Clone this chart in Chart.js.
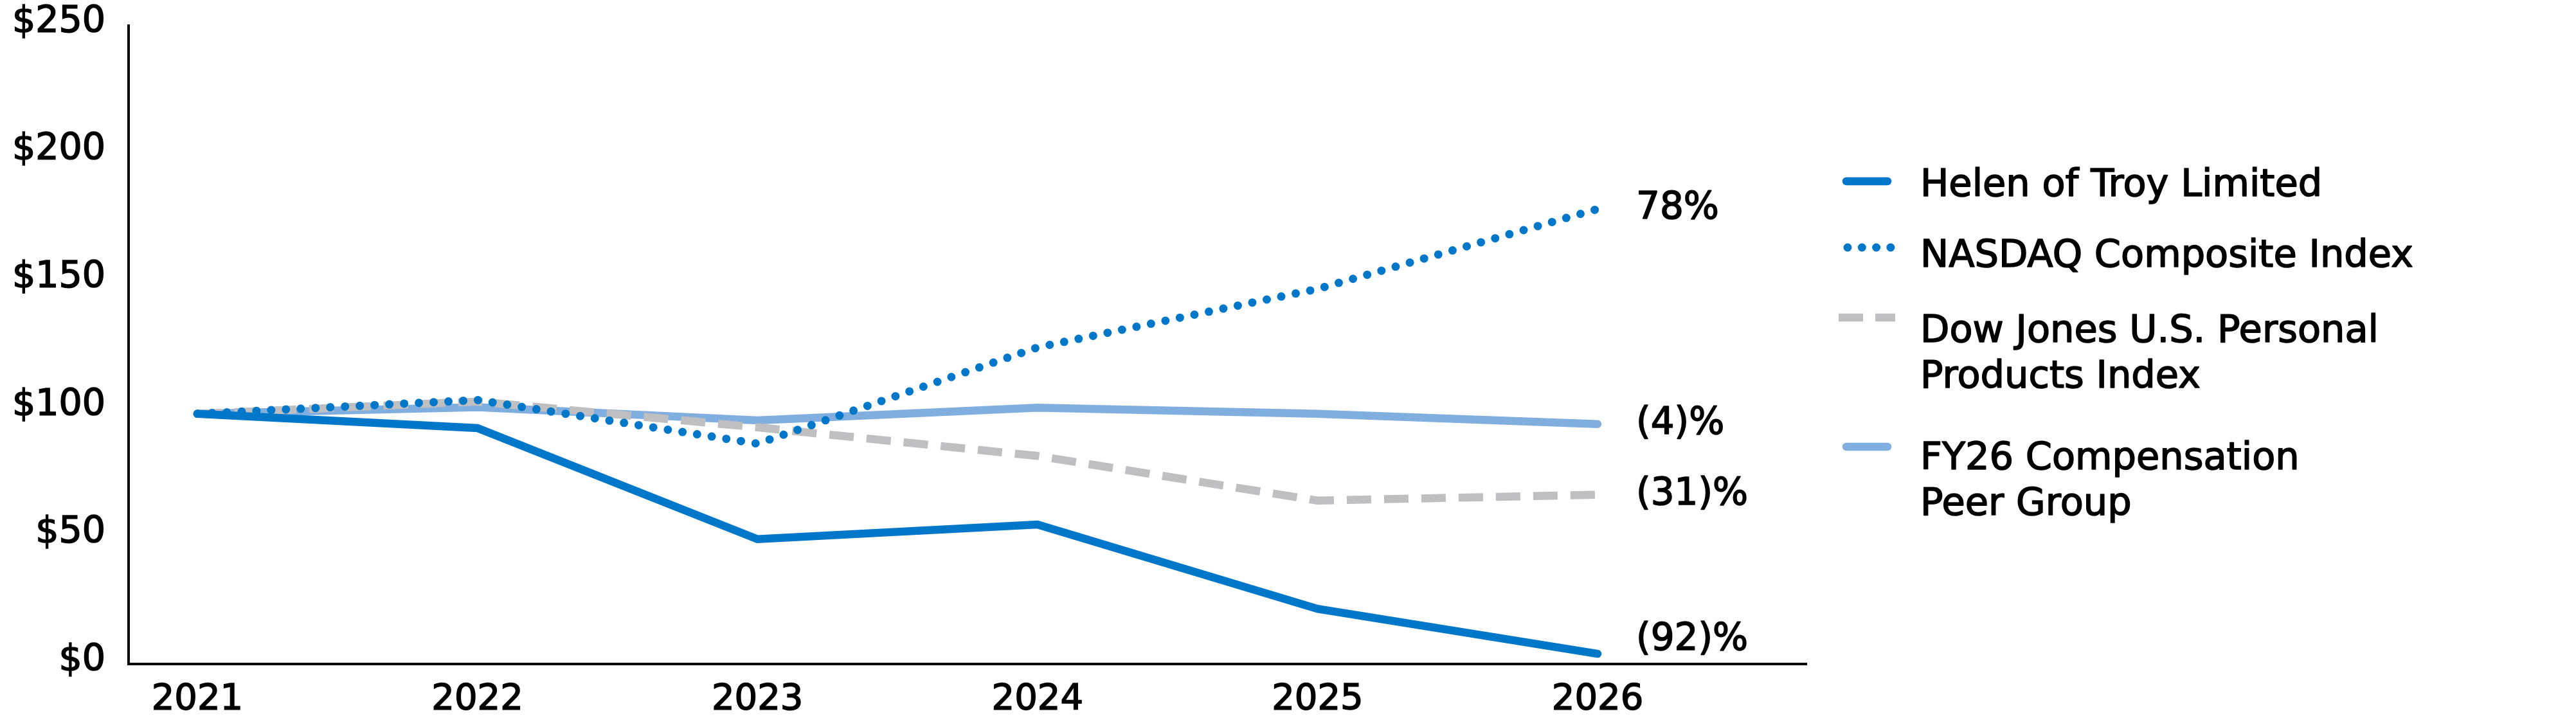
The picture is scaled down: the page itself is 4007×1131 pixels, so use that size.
<!DOCTYPE html>
<html>
<head>
<meta charset="utf-8">
<script src="https://cdn.jsdelivr.net/npm/chart.js@4.4.1/dist/chart.umd.min.js"></script>
<style>
  html, body { margin: 0; padding: 0; background: #fff; }
</style>
</head>
<body>
<canvas id="myChart" width="4007" height="1131"></canvas>
<script>
// values
const years = [2021, 2022, 2023, 2024, 2025, 2026];
const helen = [98, 92.4, 48.9, 54.6, 21.6, 4];
const nasdaq = [98, 103.4, 86.3, 124, 146.9, 178.2];
const dowJones = [98, 102.8, 92.7, 81.5, 64, 66.3];
const peerGroup = [98, 100.6, 95.4, 100.4, 98, 94];
const yTicks = [0, 50, 100, 150, 200, 250];
const seriesNames = [
  ['Helen of Troy Limited'],
  ['NASDAQ Composite Index'],
  ['Dow Jones U.S. Personal', 'Products Index'],
  ['FY26 Compensation', 'Peer Group']
];
const endLabels = ['(92)%', '78%', '(31)%', '(4)%'];

const FONT = 'DejaVu Sans';
const darkBlue = '#0077c8';
const lightBlue = '#80aedf';
const grey = '#bfbfc1';

const toPoints = (vals) => vals.map((v, i) => ({ x: years[i], y: v }));

// legend layout: marker y, first text line centre y
const legendRows = [
  { markY: 282, textY: 284 },
  { markY: 385, textY: 394 },
  { markY: 494, textY: 511 },
  { markY: 695, textY: 709 }
];

function boldText(ctx, str, x, y) {
  ctx.lineWidth = 1.6;
  ctx.strokeStyle = '#000';
  ctx.lineJoin = 'round';
  ctx.strokeText(str, x, y);
  ctx.fillText(str, x, y);
}

const legendPlugin = {
  id: 'sideLegend',
  afterDraw(chart) {
    const ctx = chart.ctx;
    const fs = 59;
    chart.data.datasets.forEach((ds, i) => {
      const row = legendRows[i];
      ctx.save();
      ctx.strokeStyle = ds.borderColor;
      ctx.lineWidth = ds.borderWidth;
      ctx.lineCap = ds.borderCapStyle || 'butt';
      let x0 = 2872, x1 = 2936;
      if (i === 1) { ctx.setLineDash([0, 22.3]); x0 = 2874; x1 = 2941; }
      if (i === 2) { ctx.setLineDash([38, 19]); x0 = 2860; x1 = 2948; }
      ctx.beginPath();
      ctx.moveTo(x0, row.markY);
      ctx.lineTo(x1, row.markY);
      ctx.stroke();
      ctx.restore();

      ctx.save();
      ctx.fillStyle = '#000';
      ctx.font = fs + 'px "' + FONT + '"';
      ctx.textBaseline = 'alphabetic';
      ctx.textAlign = 'left';
      seriesNames[i].forEach((line, k) => {
        boldText(ctx, line, 2987, row.textY + k * 71 + 0.36 * fs);
      });
      ctx.restore();
    });
  }
};

const endLabelPlugin = {
  id: 'endLabels',
  afterDatasetsDraw(chart) {
    const ctx = chart.ctx;
    const fs = 58;
    const bottom = chart.chartArea.bottom;
    chart.data.datasets.forEach((ds, i) => {
      const meta = chart.getDatasetMeta(i);
      const pt = meta.data[meta.data.length - 1];
      // keep the label clear of the x axis
      const y = Math.min(pt.y - 6, bottom - 43);
      ctx.save();
      ctx.fillStyle = '#000';
      ctx.font = fs + 'px "' + FONT + '"';
      ctx.textBaseline = 'alphabetic';
      ctx.textAlign = 'left';
      boldText(ctx, endLabels[i], pt.x + 60, y + 0.36 * fs);
      ctx.restore();
    });
  }
};

const ctx = document.getElementById('myChart');

new Chart(ctx, {
  type: 'line',
  data: {
    datasets: [
      {
        label: seriesNames[0].join(' '),
        data: toPoints(helen),
        borderColor: darkBlue,
        borderWidth: 12.5,
        borderCapStyle: 'round',
        borderJoinStyle: 'miter',
        pointRadius: 0
      },
      {
        label: seriesNames[1].join(' '),
        data: toPoints(nasdaq),
        borderColor: darkBlue,
        borderWidth: 13,
        borderDash: [0, 23],
        borderCapStyle: 'round',
        pointRadius: 0
      },
      {
        label: seriesNames[2].join(' '),
        data: toPoints(dowJones),
        borderColor: grey,
        borderWidth: 12.5,
        borderDash: [38, 20],
        borderCapStyle: 'butt',
        pointRadius: 0
      },
      {
        label: seriesNames[3].join(' '),
        data: toPoints(peerGroup),
        borderColor: lightBlue,
        borderWidth: 12.5,
        borderCapStyle: 'round',
        pointRadius: 0
      }
    ]
  },
  options: {
    responsive: false,
    devicePixelRatio: 1,
    animation: false,
    layout: { padding: { top: 40, right: 1197, bottom: 0, left: 0 } },
    plugins: {
      legend: { display: false },
      tooltip: { enabled: false }
    },
    scales: {
      x: {
        type: 'linear',
        min: 2020.7544,
        max: 2026.746,
        afterBuildTicks: (scale) => { scale.ticks = years.map(v => ({ value: v })); },
        afterFit: (scale) => { scale.height = 98; scale.paddingLeft = 0; scale.paddingRight = 0; },
        ticks: {
          callback: (v) => String(v),
          color: '#000',
          font: { family: FONT, size: 56 },
          textStrokeColor: '#000',
          textStrokeWidth: 1.6,
          padding: 22,
          maxRotation: 0,
          autoSkip: false
        },
        grid: { display: false, drawTicks: false },
        border: { display: true, color: '#000', width: 4 }
      },
      y: {
        min: 0,
        max: 250,
        afterBuildTicks: (scale) => { scale.ticks = yTicks.map(v => ({ value: v })); },
        afterFit: (scale) => { scale.width = 200; scale.paddingTop = 0; scale.paddingBottom = 0; },
        ticks: {
          callback: (v) => '$' + v,
          color: '#000',
          font: { family: FONT, size: 57 },
          textStrokeColor: '#000',
          textStrokeWidth: 1.6,
          padding: 36,
          labelOffset: -5
        },
        grid: { display: false, drawTicks: false },
        border: { display: true, color: '#000', width: 4 }
      }
    }
  },
  plugins: [endLabelPlugin, legendPlugin]
});
</script>
</body>
</html>
